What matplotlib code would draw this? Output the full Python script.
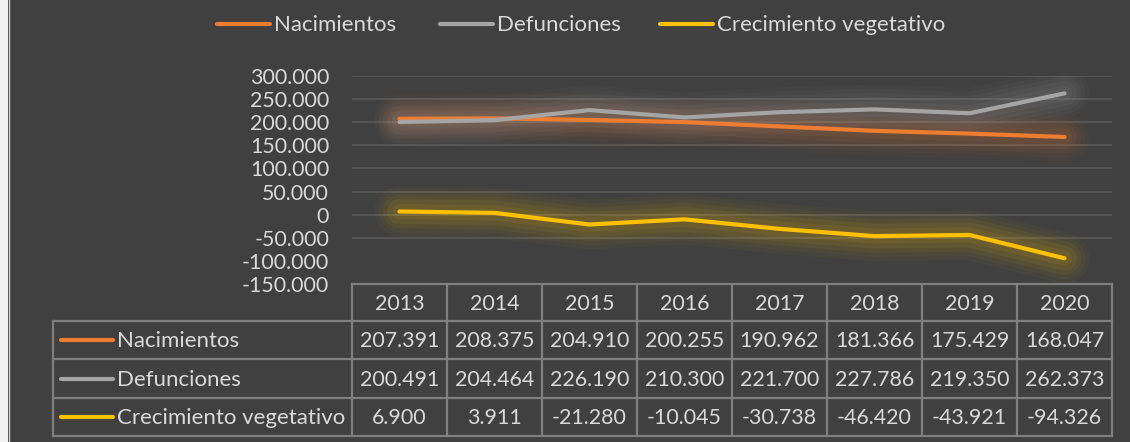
import matplotlib
matplotlib.use('Agg')
import matplotlib.pyplot as plt
from matplotlib.patches import Rectangle
from matplotlib.lines import Line2D

years = ['2013', '2014', '2015', '2016', '2017', '2018', '2019', '2020']
nacimientos = [207391, 208375, 204910, 200255, 190962, 181366, 175429, 168047]
defunciones = [200491, 204464, 226190, 210300, 221700, 227786, 219350, 262373]
crecimiento = [6900, 3911, -21280, -10045, -30738, -46420, -43921, -94326]
series_names = ['Nacimientos', 'Defunciones', 'Crecimiento vegetativo']
series_colors = ['#ED7D31', '#A5A5A5', '#FFC000']
y_ticks = [-150000, -100000, -50000, 0, 50000, 100000, 150000, 200000, 250000, 300000]

BG = '#404040'
TXT = '#D9D9D9'
GRID = '#5A5A5A'
TBL = '#7F7F7F'
FONT = 'Lato'
FS_NUM = 15.4
FS_TXT = 16

W, H = 1130, 442
fig = plt.figure(figsize=(W / 100, H / 100), dpi=100)
fig.patch.set_facecolor('#F2F2F2')


def fx(px):
    return px / W


def fy(py):
    return 1 - py / H


# dark chart area with a thin light edge on the left
fig.patches.append(Rectangle((fx(8), 0), 1 - fx(8), 1, transform=fig.transFigure,
                             facecolor=BG, edgecolor='none', zorder=-10))
fig.lines.append(Line2D([fx(8.5), fx(8.5)], [0, 1], transform=fig.transFigure,
                        color='#D0D0D0', lw=1, zorder=-9))


def fmt(v):
    if v == 0:
        return '0'
    s = f'{abs(v):,}'.replace(',', '.')
    return ('-' if v < 0 else '') + s


# plot area: 300k at y=76 px, -150k at y=284 px, x from 352 to 1112
left, right, top, bottom = 352, 1112, 76, 284
ax = fig.add_axes([fx(left), fy(bottom), fx(right - left), (bottom - top) / H])
ax.set_zorder(2)
ax.set_facecolor('none')
ax.set_xlim(-0.5, len(years) - 0.5)
ax.set_ylim(-150000, 300000)
for s in ax.spines.values():
    s.set_visible(False)
ax.set_xticks([])
ax.set_yticks(y_ticks)
ax.set_yticklabels([fmt(v) for v in y_ticks], color=TXT, fontsize=FS_NUM, family=FONT)
ax.tick_params(axis='y', length=0, pad=16.5)
for v in y_ticks:
    if -50000 <= v <= 300000:
        ax.axhline(v, color=GRID, lw=1.2, zorder=1)

xs = list(range(len(years)))
for vals, col in zip([nacimientos, defunciones, crecimiento], series_colors):
    # soft glow
    for lw, a in [(36, 0.03), (30, 0.045), (24, 0.055), (18, 0.065), (11, 0.07)]:
        ax.plot(xs, vals, color=col, lw=lw, alpha=a, solid_capstyle='round',
                solid_joinstyle='round', zorder=2)
for vals, col in zip([nacimientos, defunciones, crecimiento], series_colors):
    ax.plot(xs, vals, color=col, lw=3, solid_capstyle='round',
            solid_joinstyle='round', zorder=4)

# legend at top
leg_items = [(217, 'Nacimientos'), (440, 'Defunciones'), (660, 'Crecimiento vegetativo')]
for (x0, name), col in zip(leg_items, series_colors):
    fig.lines.append(Line2D([fx(x0), fx(x0 + 53)], [fy(24), fy(24)], transform=fig.transFigure,
                            color=col, lw=3, solid_capstyle='round', zorder=5))
    fig.text(fx(x0 + 57), fy(25), name, color=TXT, fontsize=FS_TXT, family=FONT,
             va='center', ha='left')

# data table
col_w = (right - left) / len(years)
row_y = [284, 321, 359, 398, 436]
tbl_left = 53


def hline(x0, x1, y):
    fig.lines.append(Line2D([fx(x0), fx(x1)], [fy(y), fy(y)], transform=fig.transFigure,
                            color=TBL, lw=1.6, zorder=5))


def vline(x, y0, y1):
    fig.lines.append(Line2D([fx(x), fx(x)], [fy(y0), fy(y1)], transform=fig.transFigure,
                            color=TBL, lw=1.6, zorder=5))


hline(left, right, row_y[0])
for y in row_y[1:]:
    hline(tbl_left, right, y)
vline(tbl_left, row_y[1], row_y[-1])
for i in range(len(years) + 1):
    vline(left + i * col_w, row_y[0], row_y[-1])

for i, yr in enumerate(years):
    fig.text(fx(left + (i + 0.5) * col_w), fy((row_y[0] + row_y[1]) / 2 + 1), yr,
             color=TXT, fontsize=FS_NUM, family=FONT, ha='center', va='center')

for r, (vals, name, col) in enumerate(zip([nacimientos, defunciones, crecimiento],
                                          series_names, series_colors)):
    yc = (row_y[r + 1] + row_y[r + 2]) / 2
    fig.lines.append(Line2D([fx(61), fx(113)], [fy(yc), fy(yc)], transform=fig.transFigure,
                            color=col, lw=3, solid_capstyle='round', zorder=6))
    fig.text(fx(117), fy(yc + 1), name, color=TXT, fontsize=FS_TXT, family=FONT,
             ha='left', va='center')
    for i, v in enumerate(vals):
        fig.text(fx(left + (i + 0.5) * col_w), fy(yc + 1), fmt(v), color=TXT,
                 fontsize=FS_NUM, family=FONT, ha='center', va='center')

fig.savefig('out.png', dpi=100, facecolor=fig.get_facecolor())
